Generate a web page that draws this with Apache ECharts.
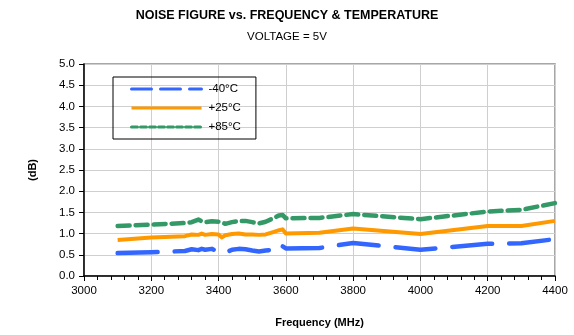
<!DOCTYPE html>
<html>
<head>
<meta charset="utf-8">
<script src="https://cdn.jsdelivr.net/npm/echarts@6/dist/echarts.min.js"></script>
<style>
  html, body { margin: 0; padding: 0; background: #fff; }
  #chart { width: 574px; height: 335px; }
</style>
</head>
<body>
<div id="chart"></div>
<script>
// frequency points (MHz)
var freqs = [3100, 3200, 3300, 3320, 3340, 3350, 3360, 3380, 3400, 3410, 3420, 3440, 3460, 3480,
             3500, 3520, 3540, 3560, 3580, 3590, 3600, 3700, 3800, 4000, 4200, 4300, 4400];
// noise figure (dB) per temperature
var nfCold = [0.54, 0.56, 0.59, 0.63, 0.61, 0.64, 0.62, 0.64, 0.57, 0.53, 0.55, 0.62, 0.64, 0.63,
              0.60, 0.58, 0.60, 0.62, 0.76, 0.70, 0.65, 0.66, 0.78, 0.62, 0.76, 0.77, 0.87];
var nfRoom = [0.85, 0.91, 0.94, 0.98, 0.97, 1.00, 0.97, 0.99, 0.98, 0.91, 0.96, 0.99, 1.00, 0.98,
              0.98, 0.97, 0.98, 1.03, 1.08, 1.10, 1.00, 1.02, 1.12, 0.99, 1.18, 1.18, 1.30];
var nfHot  = [1.18, 1.21, 1.25, 1.27, 1.33, 1.29, 1.27, 1.29, 1.28, 1.26, 1.23, 1.27, 1.30, 1.30,
              1.27, 1.24, 1.28, 1.35, 1.43, 1.44, 1.36, 1.37, 1.46, 1.34, 1.52, 1.56, 1.72];
var seriesNames = ['-40°C', '+25°C', '+85°C'];
var xTicks = [3000, 3200, 3400, 3600, 3800, 4000, 4200, 4400];
var yTicks = [0, 0.5, 1, 1.5, 2, 2.5, 3, 3.5, 4, 4.5, 5];

function pairs(ys) {
    return freqs.map(function (f, i) { return [f, ys[i]]; });
}

var chart = echarts.init(document.getElementById('chart'));
var font = 'Liberation Sans, Arial, sans-serif';
var hideDot = { opacity: 0 };

var option = {
    animation: false,
    textStyle: { fontFamily: font },
    title: [
        {
            text: 'NOISE FIGURE vs. FREQUENCY & TEMPERATURE',
            left: 'center', top: 4,
            textStyle: { fontSize: 12.5, fontWeight: 'bold', color: '#000', fontFamily: font }
        },
        {
            text: 'VOLTAGE = 5V',
            left: 'center', top: 26,
            textStyle: { fontSize: 11.5, fontWeight: 'normal', color: '#000', fontFamily: font }
        }
    ],
    grid: {
        left: 84, right: 19, top: 64, bottom: 59,
        show: true, borderColor: '#8a8a8a', borderWidth: 1.5, backgroundColor: '#fff'
    },
    legend: {
        orient: 'vertical',
        left: 113, top: 77,
        padding: [6, 15, 6, 17],
        itemGap: 7,
        itemWidth: 70, itemHeight: 14,
        borderColor: '#000', borderWidth: 1,
        textStyle: { fontSize: 11.5, color: '#000', fontFamily: font, padding: [0, 0, 0, 2] },
        data: [
            { name: seriesNames[0], itemStyle: hideDot, lineStyle: { width: 3, type: [20, 9] } },
            { name: seriesNames[1], itemStyle: hideDot, lineStyle: { width: 3 } },
            { name: seriesNames[2], itemStyle: hideDot, lineStyle: { width: 3, type: [6, 3] } }
        ]
    },
    xAxis: {
        type: 'value',
        min: 3000, max: 4400, interval: 200,
        name: 'Frequency (MHz)',
        nameLocation: 'middle', nameGap: 41,
        nameTextStyle: { fontSize: 11, fontWeight: 'bold', color: '#000', fontFamily: font },
        axisLine: { lineStyle: { color: '#000', width: 1.5 } },
        axisTick: { show: true, inside: false, length: 5, lineStyle: { color: '#000' } },
        minorTick: { show: true, splitNumber: 5, length: 4, lineStyle: { color: '#000' } },
        axisLabel: {
            fontSize: 11.5, color: '#000', margin: 9,
            formatter: function (v) { return xTicks.indexOf(v) >= 0 ? String(v) : ''; }
        },
        splitLine: { show: true, lineStyle: { color: '#cfcfcf', width: 1 } }
    },
    yAxis: {
        type: 'value',
        min: 0, max: 5, interval: 0.5,
        name: '(dB)',
        nameLocation: 'middle', nameGap: 46, nameRotate: 90,
        nameTextStyle: { fontSize: 11, fontWeight: 'bold', color: '#000', fontFamily: font },
        axisLine: { show: true, lineStyle: { color: '#000', width: 1.5 } },
        axisTick: { show: true, inside: false, length: 5, lineStyle: { color: '#000' } },
        axisLabel: {
            fontSize: 11.5, color: '#000', margin: 9,
            formatter: function (v) { return yTicks.indexOf(v) >= 0 ? v.toFixed(1) : ''; }
        },
        splitLine: { show: true, lineStyle: { color: '#cfcfcf', width: 1 } }
    },
    series: [
        {
            name: seriesNames[0], type: 'line', data: pairs(nfCold),
            symbol: 'none', color: '#3366ff', z: 3,
            lineStyle: { width: 4.5, type: [40, 17], cap: 'round', join: 'round' }
        },
        {
            name: seriesNames[1], type: 'line', data: pairs(nfRoom),
            symbol: 'none', color: '#ff9900', z: 2,
            lineStyle: { width: 4, join: 'round' }
        },
        {
            name: seriesNames[2], type: 'line', data: pairs(nfHot),
            symbol: 'none', color: '#339966', z: 2,
            lineStyle: { width: 4.5, type: [12, 6], cap: 'round', join: 'round' }
        }
    ]
};

chart.setOption(option);
</script>
</body>
</html>
